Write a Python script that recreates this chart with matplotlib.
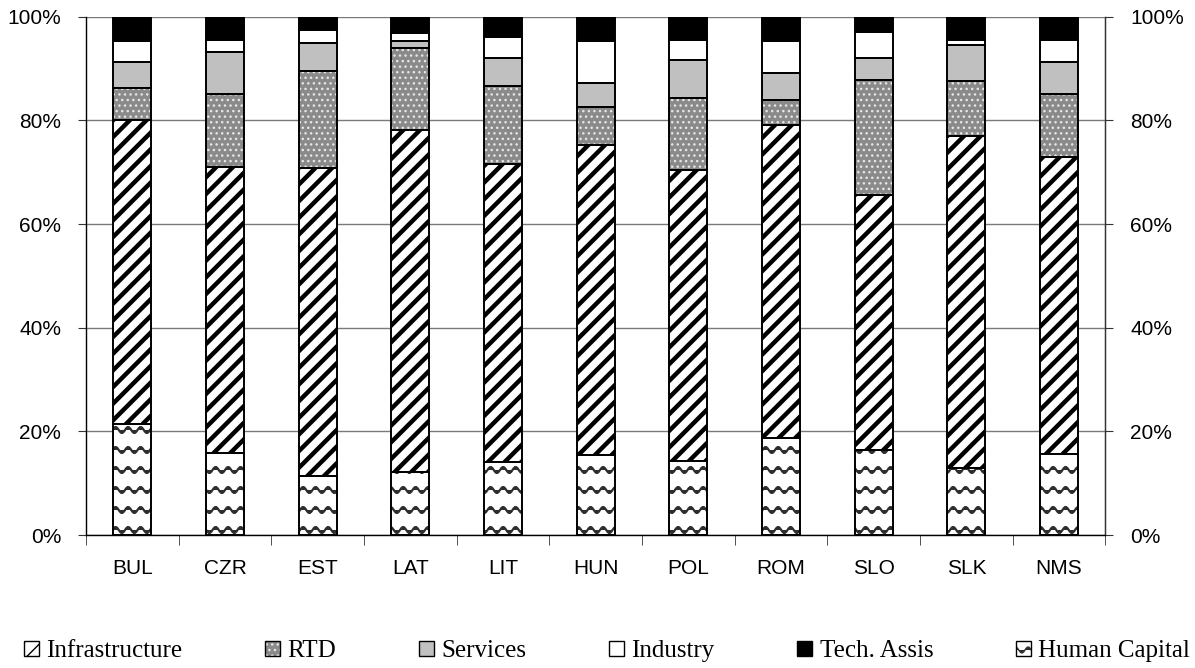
import warnings
import numpy as np
import matplotlib
matplotlib.use('Agg')
import matplotlib.pyplot as plt
from matplotlib import hatch as mhatch
from matplotlib.path import Path
from matplotlib.patches import Patch
from matplotlib.ticker import PercentFormatter, FixedLocator

warnings.filterwarnings('ignore', message='.*hatch must consist.*')

# data (share of total, %), stacked bottom -> top
countries = ['BUL', 'CZR', 'EST', 'LAT', 'LIT', 'HUN', 'POL', 'ROM', 'SLO', 'SLK', 'NMS']
human_capital = [21.4, 15.9, 11.4, 12.2, 14.0, 15.4, 14.3, 18.7, 16.4, 12.9, 15.6]
infrastructure = [58.6, 55.1, 59.4, 65.9, 57.6, 59.8, 56.1, 60.5, 49.3, 64.1, 57.4]
rtd = [6.2, 14.1, 18.8, 15.9, 15.1, 7.4, 14.0, 4.8, 22.0, 10.6, 12.1]
services = [5.1, 8.1, 5.4, 1.4, 5.4, 4.7, 7.2, 5.1, 4.4, 7.0, 6.2]
industry = [4.0, 2.4, 2.4, 1.4, 3.9, 8.0, 4.0, 6.2, 5.0, 1.0, 4.3]
tech_assis = [4.7, 4.4, 2.6, 3.2, 4.0, 4.7, 4.4, 4.7, 2.9, 4.4, 4.4]


# wavy hatch pattern ('~') for the human capital segments
class WaveHatch(mhatch.HatchPatternBase):
    def __init__(self, hatch, density):
        self.num_rows = int(hatch.count('~') * 5)
        self.npts = 8 * 10 + 1
        self.num_vertices = self.num_rows * self.npts

    def set_vertices_and_codes(self, vertices, codes):
        t = np.linspace(0.0, 1.0, self.npts)
        for i in range(self.num_rows):
            y0 = (i + 0.5) / self.num_rows
            seg = slice(i * self.npts, (i + 1) * self.npts)
            vertices[seg, 0] = t
            vertices[seg, 1] = y0 + 0.03 * np.sin(2 * np.pi * 8 * t)
            codes[seg] = Path.LINETO
            codes[i * self.npts] = Path.MOVETO


mhatch._hatch_types.append(WaveHatch)

# series styles: (label, values, facecolor, hatchcolor, hatch, hatch linewidth)
series = [
    ('Human Capital', human_capital, 'white', '#2e2e2e', '~', 1.6),
    ('Infrastructure', infrastructure, 'white', 'black', '//', 3.2),
    ('RTD', rtd, '#8a8a8a', '#e6e6e6', '...', 1.0),
    ('Services', services, '#c0c0c0', '#c0c0c0', None, 1.0),
    ('Industry', industry, 'white', 'white', None, 1.0),
    ('Tech. Assis', tech_assis, 'black', 'black', None, 1.0),
]

fig = plt.figure(figsize=(11.95, 6.68), dpi=100)
ax = fig.add_axes([0.072, 0.199, 0.853, 0.776])

x = np.arange(len(countries))
width = 0.41
bottom = np.zeros(len(countries))
handles = {}
for label, vals, fc, hc, h, hlw in series:
    vals = np.array(vals)
    plt.rcParams['hatch.linewidth'] = hlw
    fill = ax.bar(x, vals, width, bottom=bottom, facecolor=fc, edgecolor=hc,
                  linewidth=0, hatch=h, zorder=2)
    for p in fill:
        if hasattr(p, 'set_hatch_linewidth'):
            p.set_hatch_linewidth(hlw)
    ax.bar(x, vals, width, bottom=bottom, fill=False, edgecolor='black',
           linewidth=1.4, zorder=3)
    hp = Patch(facecolor=fc, edgecolor=hc, linewidth=0, hatch=h)
    if hasattr(hp, 'set_hatch_linewidth'):
        hp.set_hatch_linewidth(hlw)
    handles[label] = (hp, Patch(fill=False, edgecolor='black', linewidth=1.0))
    bottom += vals

# axes styling
ax.set_xlim(-0.5, len(countries) - 0.5)
ax.set_ylim(0, 100)
ax.set_yticks(np.arange(0, 101, 20))
ax.yaxis.set_major_formatter(PercentFormatter(decimals=0))
ax.yaxis.grid(True, color='#7a7a7a', linewidth=1.0)
ax.set_axisbelow(True)
ax.spines['top'].set_visible(False)
for s in ['left', 'right', 'bottom']:
    ax.spines[s].set_color('#333333')
    ax.spines[s].set_linewidth(1.0)

ax.set_xticks(x)
ax.set_xticklabels(countries, fontsize=15, family='Liberation Sans')
ax.tick_params(axis='x', which='major', length=0, pad=17)
ax.xaxis.set_minor_locator(FixedLocator(np.arange(len(countries) + 1) - 0.5))
ax.tick_params(axis='x', which='minor', length=7, direction='out', color='#333333')
ax.tick_params(axis='y', length=6, direction='out', color='#333333', pad=12)
for t in ax.get_yticklabels():
    t.set_fontsize(15)
    t.set_family('Liberation Sans')

ax2 = ax.twinx()
ax2.set_ylim(0, 100)
ax2.set_yticks(np.arange(0, 101, 20))
ax2.yaxis.set_major_formatter(PercentFormatter(decimals=0))
ax2.spines['top'].set_visible(False)
ax2.spines['right'].set_color('#333333')
ax2.tick_params(axis='y', length=6, direction='out', color='#333333', pad=12)
for t in ax2.get_yticklabels():
    t.set_fontsize(15)
    t.set_family('Liberation Sans')

legend_order = ['Infrastructure', 'RTD', 'Services', 'Industry', 'Tech. Assis', 'Human Capital']
fig.legend([handles[k] for k in legend_order], legend_order,
           loc='center', bbox_to_anchor=(0.508, 0.025), ncol=6, frameon=False,
           prop={'family': 'Liberation Serif', 'size': 18},
           handlelength=0.6, handleheight=0.6, handletextpad=0.3,
           columnspacing=3.3, borderaxespad=0)

plt.savefig('out.png', dpi=100)
